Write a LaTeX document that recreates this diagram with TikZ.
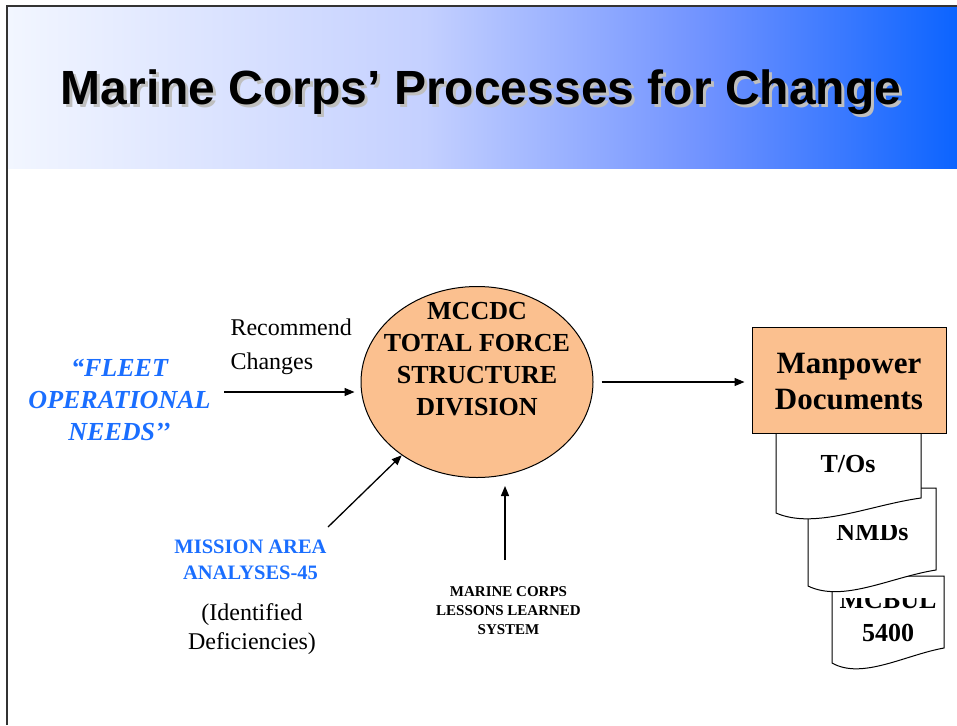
\documentclass[tikz,border=0pt]{standalone}
\usepackage{fontspec}
\setmainfont{Liberation Serif}
\newfontfamily\titlefont{Liberation Sans}
\usetikzlibrary{arrows.meta,shapes.geometric}
\definecolor{peach}{RGB}{251,192,143}
\definecolor{fleetblue}{RGB}{26,110,255}
\definecolor{framegray}{RGB}{51,51,51}
\definecolor{hdrA}{RGB}{242,246,255}
\definecolor{hdrB}{RGB}{196,208,255}
\definecolor{hdrC}{RGB}{110,145,255}
\definecolor{hdrD}{RGB}{12,100,255}
\pgfdeclarehorizontalshading{hdrshade}{100bp}{color(0bp)=(hdrA); color(25bp)=(hdrA); color(47bp)=(hdrB); color(62bp)=(hdrC); color(75bp)=(hdrD); color(100bp)=(hdrD)}
\tikzset{
  arr/.style={line width=1.3pt, -{Triangle[length=10pt,width=8pt]}},
  docline/.style={draw=black, fill=white, line width=1pt},
  bigbold/.style={font=\bfseries\fontsize{26}{32}\selectfont, align=center, anchor=base},
}
\begin{document}
\begin{tikzpicture}[x=1pt,y=-1pt]
\useasboundingbox (0,0) rectangle (957,725);
% frame and header
\shade[shading=hdrshade] (8,7) rectangle (957,168);
\draw[framegray, line width=2.2pt] (7,725) -- (7,6) -- (957,6);
% title
\node[font=\titlefont\bfseries\fontsize{48}{48}\selectfont, text=gray!50, anchor=base] (titleshadow) at (484,107) {Marine Corps’ Processes for Change};
\node[font=\titlefont\bfseries\fontsize{48}{48}\selectfont, text=black, anchor=base] (title) at (481,104) {Marine Corps’ Processes for Change};

% central ellipse
\node[ellipse, draw, fill=peach, line width=1pt, minimum width=232pt, minimum height=191pt, inner sep=0pt] (ell) at (477,382) {};
\node[bigbold] (elltext) at (477,415.5) {MCCDC\\TOTAL FORCE\\STRUCTURE\\DIVISION};

% fleet needs
\node[font=\bfseries\itshape\fontsize{26}{32}\selectfont, text=fleetblue, align=center, anchor=base] (fleet) at (119.5,440.5) {“FLEET\\OPERATIONAL\\NEEDS’’};
\node[anchor=base west, align=left, font=\fontsize{24}{34}\selectfont] (recommend) at (227,369) {Recommend\\Changes};
\coordinate (fleetstart) at (224,392);
\draw[arr, shorten >=6pt] (fleetstart) -- (ell.west |- fleetstart);

% mission area analyses
\node[font=\bfseries\fontsize{20.5}{26}\selectfont, text=fleetblue, align=center, anchor=base] (mission) at (250.5,579) {MISSION AREA\\ANALYSES-45};
\node[font=\fontsize{24}{29}\selectfont, align=center, anchor=base] (deficiencies) at (252,649) {(Identified\\Deficiencies)};
\coordinate (missionstart) at (328,527);
\draw[arr] (missionstart) -- (ell);

% lessons learned
\node[font=\bfseries\fontsize{15}{19}\selectfont, align=center, anchor=base] (lessons) at (508.5,634) {MARINE CORPS\\LESSONS LEARNED\\SYSTEM};
\coordinate (lessonsstart) at (505,560);
\draw[arr, shorten >=8pt] (lessonsstart) -- (lessonsstart |- ell.south);

% documents stack (back to front)
\filldraw[docline] (832,663) -- (832,576) -- (944,576) -- (944,648) .. controls (905,655) and (862,680) .. (832,663) -- cycle;
\begin{scope}
  \clip (832,598) rectangle (944,663);
  \node[font=\bfseries\fontsize{26}{33}\selectfont, align=center, anchor=base] (mcbul) at (888,641) {MCBUL\\5400};
\end{scope}
\filldraw[docline] (808,586) -- (808,488) -- (936,488) -- (936,570) .. controls (891,577) and (843,603) .. (808,586) -- cycle;
\begin{scope}
  \clip (808,525) rectangle (936,586);
  \node[font=\bfseries\fontsize{26}{32}\selectfont, anchor=base] (nmds) at (872.5,540.5) {NMDs};
\end{scope}
\filldraw[docline] (776,513) -- (776,425) -- (921,425) -- (921,498) .. controls (870,505) and (815,530) .. (776,513) -- cycle;
\node[font=\bfseries\fontsize{26}{32}\selectfont, anchor=base] (tos) at (848,472.5) {T/Os};

% manpower box
\node[draw, fill=peach, line width=1pt, minimum width=194pt, minimum height=106pt, inner sep=0pt] (mp) at (849,380) {};
\node[font=\bfseries\fontsize{31}{36}\selectfont, align=center, anchor=base] (mptext) at (849,409) {Manpower\\Documents};
\draw[arr, shorten <=8pt, shorten >=7pt] (ell.east) -- (mp.west |- ell.east);
\end{tikzpicture}
\end{document}
